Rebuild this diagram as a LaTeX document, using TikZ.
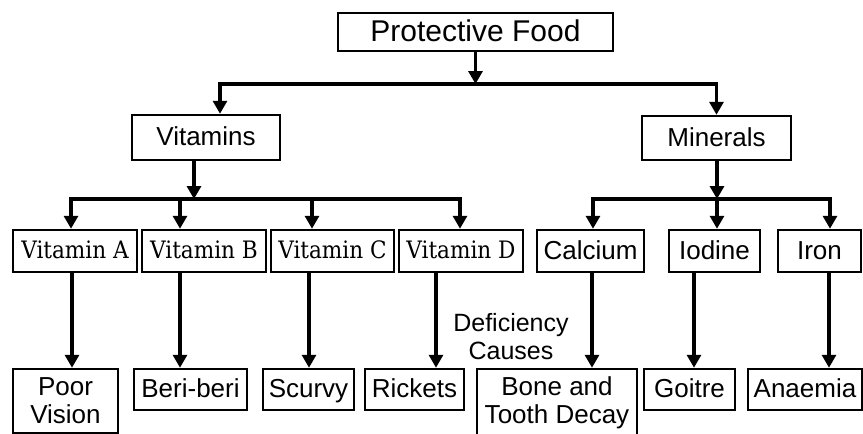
\documentclass[tikz,border=0pt]{standalone}
\usepackage{fontspec}
\setmainfont{Liberation Sans}
\newfontfamily\vitfont{DejaVu Serif Condensed}
\usetikzlibrary{arrows.meta}

\begin{document}
\begin{tikzpicture}[x=1pt,y=-1pt,font=\fontsize{26}{28}\selectfont,
  box/.style={draw,line width=2.5pt,inner sep=0pt,minimum height=41pt,align=center},
  sbox/.style={box,text height=18.7pt,text depth=2pt},
  vbox/.style={box,minimum height=42pt,text height=17.5pt,text depth=2pt,font=\vitfont\fontsize{24}{26}\selectfont},
  arr/.style={line width=3.2pt,-{Triangle[width=14pt,length=13pt]}}]
\useasboundingbox (0,0) rectangle (863,434);
\node[box,minimum width=275pt,minimum height=38pt,text height=21.6pt,text depth=3pt,font=\fontsize{30}{32}\selectfont] (pf) at (475.5,32) {Protective Food};
\node[sbox,minimum width=148pt,minimum height=45pt] (vit) at (206,137.5) {Vitamins};
\node[sbox,minimum width=149pt,minimum height=44pt] (min) at (716.5,138) {Minerals};
\node[vbox,minimum width=124pt] (va) at (75,251) {Vitamin A};
\node[vbox,minimum width=124pt] (vb) at (204,251) {Vitamin B};
\node[vbox,minimum width=123pt] (vc) at (332.5,251) {Vitamin C};
\node[vbox,minimum width=124pt] (vd) at (461,251) {Vitamin D};
\node[sbox,minimum width=107pt,minimum height=42pt] (ca) at (590.5,251) {Calcium};
\node[sbox,minimum width=91pt,minimum height=42pt] (io) at (714.5,251) {Iodine};
\node[sbox,minimum width=83pt,minimum height=42pt] (ir) at (819.5,251) {Iron};
\node[box,minimum width=105pt,minimum height=64pt] (pv) at (65.5,401) {Poor\\Vision};
\node[sbox,minimum width=113pt] (bb) at (190.5,389.5) {Beri-beri};
\node[sbox,minimum width=91pt] (sc) at (308.5,389.5) {Scurvy};
\node[sbox,minimum width=99pt] (ri) at (414.5,389.5) {Rickets};
\node[box,minimum width=160pt,minimum height=68pt] (bt) at (557,403) {Bone and\\Tooth Decay};
\node[sbox,minimum width=91pt] (go) at (689.5,389.5) {Goitre};
\node[sbox,minimum width=114pt] (an) at (805,389.5) {Anaemia};
\node[align=center,font=\fontsize{25}{28}\selectfont] (def) at (511,337) {Deficiency\\Causes};
\coordinate (pfbar) at (475.5,84);
\draw[arr] (pf) -- (pfbar);
\draw[arr] (pfbar) -| ([xshift=14pt]vit.north);
\draw[arr] (pfbar) -| (min.north);
\coordinate (vbar) at (194,199);
\draw[arr] (vit.south -| vbar) -- (vbar);
\foreach \n/\x in {va/71,vb/180,vc/312,vd/460}
  {\coordinate (k) at (\x,199); \draw[arr] (vbar) -| (\n.north -| k);}
\coordinate (mbar) at (717,199);
\draw[arr] (min.south -| mbar) -- (mbar);
\foreach \n/\x in {ca/593,io/717,ir/830}
  {\coordinate (k) at (\x,199); \draw[arr] (mbar) -| (\n.north -| k);}
\foreach \src/\dst/\x in {va/pv/72,vb/bb/180,vc/sc/309,vd/ri/436,ca/bt/592,io/go/694,ir/an/829}
  {\coordinate (k) at (\x,0); \draw[arr] (\src.south -| k) -- (\dst.north -| k);}
\end{tikzpicture}
\end{document}
